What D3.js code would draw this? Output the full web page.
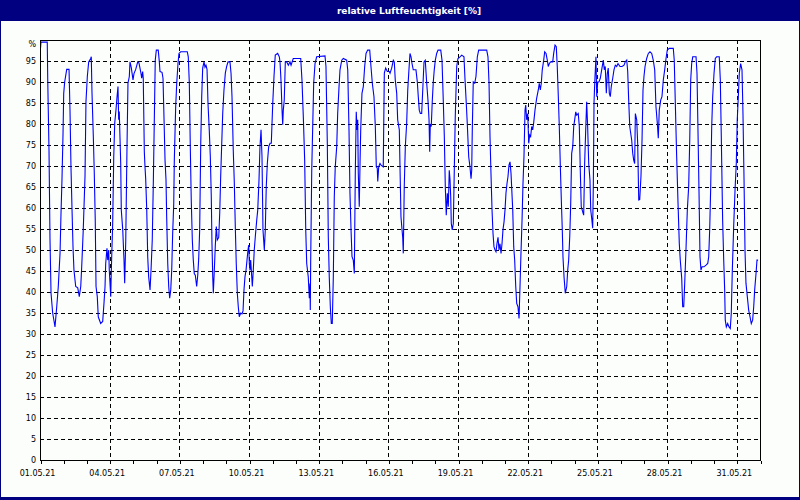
<!DOCTYPE html>
<html>
<head>
<meta charset="utf-8">
<script src="https://cdn.jsdelivr.net/npm/d3@7"></script>
<style>
  html, body { margin: 0; padding: 0; background: #000080; }
  svg { display: block; }
</style>
</head>
<body>
<svg id="chart" width="800" height="500"></svg>
<script>
// ---- data: hours since 01.05.21 00:00 and relative humidity [%] ----
const hours = [0.5,1,7.5,8,9.3,10.3,11.4,13.1,15.5,17.3,18.9,20.7,21.7,22.7,23.8,24.5,25.5,27.6,30,31,32,33.1,34.1,35.1,36.9,39,40.6,42.1,43.1,44.7,46.5,47.5,48.9,50.3,52.4,53,53.7,55.1,56.1,57.1,57.9,59.2,60.2,62.7,64.8,66.1,67.2,67.9,69.2,70,71,71.6,73.1,73.7,75.1,76.2,77.2,78.5,79.6,80.6,81.3,81.9,83.4,84,85.5,86.8,87.5,88.6,89.9,90.9,92.3,93,94.3,96.1,97.1,98.9,101,102.3,104.4,105.1,106.1,106.7,107.8,108.5,109.2,110.3,111.3,112.3,113.7,114.7,116,117.1,118.5,119.1,120.2,122.2,123.3,124,126.1,127.1,128.1,129.2,130.2,130.9,132,133,134,135.1,136.1,137.1,138.2,138.8,140.2,141.3,142.6,143.6,145.4,152.2,153.2,154.3,155.3,156.3,157.4,158.4,159.4,160.5,161.9,163,164,165,166.1,167.1,168.1,169.5,170.5,171.5,172.6,173.6,174.9,176,177,177.7,178.5,179.1,180.1,181.1,182.2,183.2,184.7,185.7,186.7,187.8,188.8,190.1,191.5,192.9,194.3,196.3,197.4,198.4,199.7,200.8,201.8,202.8,203.9,204.9,205.9,207.4,208.7,209.8,210.8,211.8,212.9,213.9,214.9,215.7,216.3,217,217.7,218.8,219.4,220.4,221.4,222.5,223.9,225,226.3,227.3,228.4,229.4,230.4,231.8,232.8,233.8,234.9,236.3,237.7,239,240.5,241.8,243.1,245.6,247.3,248,249,250.1,250.8,251.4,252.4,253.5,254.9,256.6,258.3,259.4,261.7,269.4,270.7,272.1,273.5,274.6,275.6,277.2,278.3,279,279.3,279.7,280.8,281.8,282.8,284.2,285.9,294.5,295.5,296.9,297.9,298.9,300,301,302,303.1,304.1,305.1,306.6,307.6,309,310,311.8,313.4,316.9,318,319.3,320.3,321.4,322.4,323.7,324.8,325.8,326.8,327.6,328.3,328.9,329.9,330.7,331.4,332.7,334.1,335.5,336.9,338.6,340.7,342,343.4,345.1,346.5,347.5,348.5,349,350,351.3,352.4,354.7,355.8,357.2,358.9,360.9,361.7,363.4,365.1,366.1,367.1,368.6,369.6,371.3,372,373,374.1,374.8,375.4,376.4,377.5,378.9,380,381,382.3,383.4,384.4,385.7,388.5,389.9,390.9,391.9,393,394.4,395.5,396.8,398.1,399.6,400.9,402,402.7,403.3,404.3,405.4,406.4,407.4,408.5,409.9,411.3,414.1,415.4,416.7,417.8,418.8,419.8,420.9,421.9,422.9,423.7,424.4,425,426,427.1,428.1,429.1,430.6,431.9,434,435.8,438.1,439.2,440.5,441.5,443,444.3,445.4,446.1,446.7,447.7,449.2,450.5,451.9,453.3,461.6,462.9,464,465,466,467.1,468.1,469.1,470.2,471.2,472.2,473.3,474.3,475.3,476.4,477.4,478.4,479.5,480.5,481.5,482.6,483.6,484.6,485.7,486.7,488.5,489.5,490.5,491.6,492.6,493.9,495,496,497,498.1,499.1,500.1,501.2,501.9,502.9,504,505,506,507,508.1,509.1,510.1,511.5,513.2,514.9,515.9,517,518,519,520.5,521.5,522.9,524.2,525.2,526.3,527.7,529.8,530.8,532.2,533.5,534.5,535.6,536.6,537.6,538.7,539.7,540.4,541.5,542.8,544.3,545.3,546.3,547.4,548.4,549.4,550.5,551.5,552.5,553.6,554.6,556.2,557.3,558.3,559.3,560.8,561.8,562.8,563.9,564.9,565.9,567,568.3,569.1,570.1,571.1,571.8,572.5,573.5,574.5,575.3,576.3,577.6,579,580.4,582.1,583.1,584.1,585.2,586.2,587.2,588.3,589.3,590.3,591.8,593.1,594.5,595.9,597.3,599.3,601.4,603.5,604.8,606.3,607.3,608.3,609.4,610.4,611.4,612.5,613.5,614.5,615.2,616.6,617.6,618.7,619.7,621,622.1,623.1,624.1,625.2,626.9,628.6,630.3,632.1,633.7,635.2,636.5,637.9,638.9,639.9,641.4,642.7,644.1,645.5,646.9,648.2,650.3,654.4,655.4,656.5,657.9,659.3,660.6,661.6,663.1,664.1,665.2,666.2,667.5,668.9,670.3,671.4,672.4,673.4,674.5,677.9,678.9,679.9,681,682,683,684.1,686.1,688.2,690,691,692,693,694.1,695.1,696.5,697.8,699.2,701.9,703,704,705.4,706.5,707.5,708.1,709.2,710.6,712,713.3,714.3,715.4,716.8,718.2,719.5,720.5,721.6,722.6,724,725.4,726.4,727.5,728.5,729.5,730.9,732.3,733.7,735,736.4,737.5,738.5,739.9,740.9,742];
const humidity = [98,99.5,99.5,90.5,73.8,52.9,39.7,35,31.7,36.5,41.3,49.2,58.7,66.7,77.8,87.3,90,93,93,83.3,69.8,59.5,50.8,45.2,41.3,41,38.9,41.3,46,54.8,67.5,85.3,91.3,94.8,95.6,96,87.7,77,68.3,57,41.3,38.9,34.1,32.5,33,37.3,41.3,46.8,50.4,47.6,50,45.2,38.9,45.2,56.3,72.2,80.2,83.3,86.5,88.9,81,83,70.6,59.5,54.8,47.6,42.1,52,74.6,89.7,91.3,94.8,93.5,90.5,92,93,94.8,94.5,92,90.9,92.5,90.9,73.4,69.8,67,59.5,48.4,43.6,40.5,45,52.4,66,86.5,95.2,97.6,97.6,94.8,92.5,92.3,90.9,81.7,71.4,66.7,57.9,46.8,41.3,38.5,40.5,45.2,54,61,71.4,84.1,89.7,94.4,96.8,97.2,97.2,96,89.7,74.6,61.9,52.4,47.6,44.4,44,41.3,44,48,54.8,75.4,86.5,93.3,94.8,93.5,94,93,84.9,78.6,72.2,62.7,51.6,43.6,39.7,45,50.8,55.6,52.4,53,58.7,67.5,75.4,82.5,88.1,92.1,93.7,94.8,94.8,92.1,86.5,73.8,65.9,55.6,46.8,39.7,36.5,34.1,35,34.8,35.5,40.5,43.6,45.2,47.6,50,51.2,46.8,45.2,47.6,43.6,41.3,45.2,50,53.2,57,59.5,66.7,74.6,78.6,72.2,54.8,50,54.8,65,70.6,74.6,75.4,75.4,84.9,91.3,96.4,96.8,96,94.8,90.5,83.3,79.8,83.3,85.7,94.8,94.8,94,94.8,94,95.6,95.6,90.5,81.7,71.4,54.8,46.8,43.6,38.5,42,35.7,47,69,79.4,89.7,94.4,96,96.2,93.7,75.4,53.2,43.6,36.5,32.5,32.5,43.6,62.7,69.8,74.6,82.5,88.9,92.9,95.2,95.6,95.2,92.9,78.6,63.5,54.8,48.4,47.6,44.4,68.3,82.9,78.6,81,68.3,60.3,70.6,78.6,87.3,88.9,93.7,96.8,97.6,97.6,93.7,89.7,86.5,79.4,69.8,69.5,66.3,69.8,70.6,70.2,69.8,92.1,93.3,92.5,92.5,92.1,93.3,95.2,94.8,90.5,87.3,81,78.6,69.8,57.9,54.8,53,49.2,65.1,74.6,80.2,88.1,92,96.8,96,94.4,92.9,92.9,90,86.5,83.3,82.5,82.5,88.1,94.8,95.2,89.7,85.7,81,73.4,80,79.4,85.7,90,92.9,95.2,96.8,97.6,97.6,95.2,85.7,77,65.1,58.3,63.5,60.3,69,66.7,62.7,56.3,54.8,56.3,69,81.7,93.7,95.6,96,96.4,96,90.5,84.9,80.2,72.2,69.8,67,69,78.6,90,89.7,91.3,96,97.6,97.6,96,89.7,77,68.3,59.5,54,50.8,50,49.6,51.5,53,50,51.5,49.2,51.5,54.8,56.7,59.5,63.5,65.9,67.5,70.2,71,68.3,59.5,50.8,47.6,41.3,37.3,36.5,33.7,41.3,49.2,57,65.9,72.2,83.3,84.5,81,82.5,75.4,77.4,77,79.4,78.6,80.2,83.3,86.1,88.1,89.7,88.1,89.7,92.9,95.2,97.2,96.8,95.2,93.7,94.4,94.8,94.8,96.8,98.8,98.4,93.7,86.5,79.4,70.6,61.9,54.8,48.4,43.6,39.7,41.3,45.2,47.6,53.2,61.1,73,74.6,79.4,81,82.9,82.1,82.5,79.4,69,60.3,59.1,58.3,70.6,78.6,85.3,79.4,70.6,66.7,59.5,57.5,55.2,65.9,85.3,91.3,96,86.5,90,90,90.9,92.9,95.2,92.9,93.7,87.3,92,93.3,87.3,86.5,88.9,90.9,92.9,94,93.7,94.4,93.7,93.7,94,94.8,95.2,92.5,85.7,79.4,77.8,76.2,73,71.4,70.6,82.5,81,75.4,61.9,62,67.5,76.2,88.1,91.3,93.7,95.6,96.8,97.2,96.8,95.2,92.9,84.1,80.2,76.6,83.3,85.7,86.5,90.5,92.9,95.6,97.6,98,98,95.2,84.9,72.2,61.1,51.6,47.6,43.3,36.5,36.5,42.1,50,59.5,65.1,76.2,90.5,94.4,96,96,92.1,78.6,63.5,48.4,45.2,46,46,46.4,46.8,48.4,54.8,64.3,79.4,86.5,92.1,95.6,96,96,90.5,77,57.1,47.6,40.5,33.3,31.7,32.5,31.7,31.3,34.8,45.2,55.6,64.3,70.6,81,86.5,92.1,94.4,92.9,82.5,66.7,50,42.1,38.9,35.7,34.1,32.5,33.3,36.5,40.5,44.4,47.6,47.6];
const yTicks = [0,5,10,15,20,25,30,35,40,45,50,55,60,65,70,75,80,85,90,95,100];
const title = "relative Luftfeuchtigkeit [%]";

// ---- layout ----
const W = 800, H = 500;
const L = 40, R = 760, T = 40, B = 460;
const t0 = Date.UTC(2021, 4, 1);
const t1 = Date.UTC(2021, 5, 1);

const svg = d3.select("#chart");

// frame / background
svg.append("rect").attr("x", 0).attr("y", 0).attr("width", W).attr("height", H).attr("fill", "#000080");
svg.append("rect").attr("x", 1).attr("y", 21).attr("width", 798).attr("height", 476).attr("fill", "#fbfefb");
svg.append("text").attr("x", 409).attr("y", 14)
  .attr("text-anchor", "middle")
  .attr("font-family", "'DejaVu Sans', Verdana, sans-serif")
  .attr("font-weight", "bold").attr("font-size", 9)
  .attr("fill", "#ffffff").text(title);

const x = d3.scaleUtc().domain([new Date(t0), new Date(t1)]).range([L, R]);
const y = d3.scaleLinear().domain([0, 100]).range([B, T]);

const data = hours.map((h, i) => ({ t: new Date(t0 + h * 3600e3), v: humidity[i] }));

const days = d3.utcDay.range(new Date(t0), new Date(t1 + 1));
const dayIdx = d => Math.round((d - t0) / 864e5);
const fmt = d3.utcFormat("%d.%m.%y");

const grid = svg.append("g").attr("shape-rendering", "crispEdges");
// horizontal dashed gridlines
grid.selectAll("line.h").data(yTicks.filter(v => v > 0 && v < 100)).join("line")
  .attr("x1", L).attr("x2", R)
  .attr("y1", d => y(d) + 0.5).attr("y2", d => y(d) + 0.5)
  .attr("stroke", "#000").attr("stroke-width", 1).attr("stroke-dasharray", "4,3");
// vertical dashed gridlines every 3 days
grid.selectAll("line.v").data(days.filter(d => dayIdx(d) % 3 === 0 && dayIdx(d) > 0 && dayIdx(d) < 31)).join("line")
  .attr("x1", d => Math.round(x(d)) + 0.5).attr("x2", d => Math.round(x(d)) + 0.5)
  .attr("y1", T).attr("y2", B)
  .attr("stroke", "#000").attr("stroke-width", 1).attr("stroke-dasharray", "4,3");

// data line
const line = d3.line().x(d => x(d.t)).y(d => y(d.v));
svg.append("path").datum(data)
  .attr("d", line)
  .attr("fill", "none").attr("stroke", "#0000ff").attr("stroke-width", 1.1)
  .attr("stroke-linejoin", "miter");

// plot border
svg.append("rect").attr("x", L + 0.5).attr("y", T + 0.5).attr("width", R - L).attr("height", B - T)
  .attr("fill", "none").attr("stroke", "#000").attr("stroke-width", 1).attr("shape-rendering", "crispEdges");

// x axis
const xAxis = d3.axisBottom(x)
  .tickValues(days)
  .tickSize(3).tickSizeOuter(0).tickPadding(7)
  .tickFormat(d => dayIdx(d) % 3 === 0 && dayIdx(d) < 31 ? fmt(d) : "");
const gx = svg.append("g").attr("transform", `translate(0.5,${B + 0.5})`).call(xAxis);
gx.select(".domain").remove();
gx.selectAll("line").attr("stroke", "#000").attr("shape-rendering", "crispEdges");
gx.selectAll("text")
  .attr("font-family", "'DejaVu Sans', Verdana, sans-serif").attr("font-size", 8)
  .attr("fill", "#000").attr("dx", -3.5);

// y labels
svg.append("g").selectAll("text").data(yTicks).join("text")
  .attr("x", 36).attr("y", d => d === 100 ? 47 : y(d) + 3)
  .attr("text-anchor", "end")
  .attr("font-family", "'DejaVu Sans', Verdana, sans-serif").attr("font-size", 8)
  .attr("fill", "#000")
  .text(d => d === 100 ? "%" : d);
</script>
</body>
</html>
